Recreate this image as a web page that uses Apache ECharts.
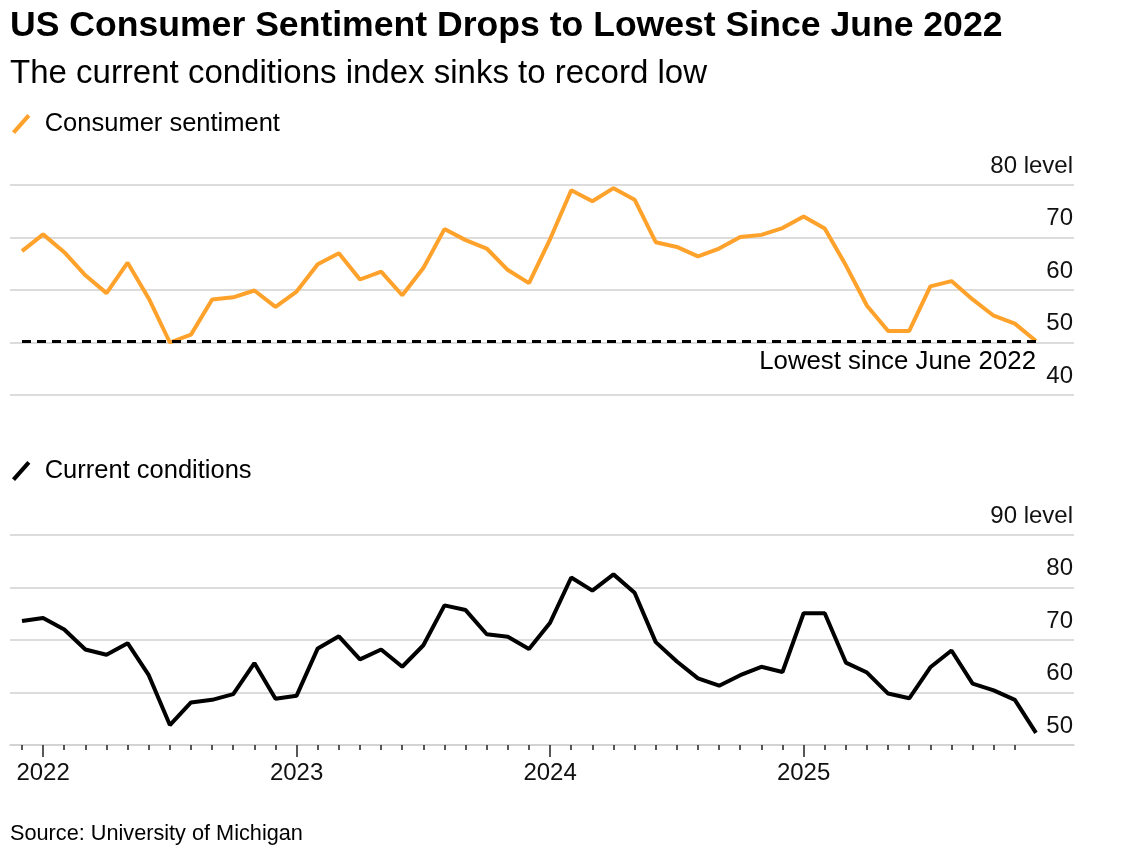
<!DOCTYPE html>
<html>
<head>
<meta charset="utf-8">
<script src="https://cdn.jsdelivr.net/npm/echarts@6/dist/echarts.min.js"></script>
<style>
html,body{margin:0;padding:0;background:#fff;}
#chart{width:1128px;height:859px;}
</style>
</head>
<body>
<div id="chart"></div>
<script>
// Month-end observation dates (Bloomberg plots monthly values at month end)
const months = [
  "2021-11","2021-12",
  "2022-01","2022-02","2022-03","2022-04","2022-05","2022-06","2022-07","2022-08","2022-09","2022-10","2022-11","2022-12",
  "2023-01","2023-02","2023-03","2023-04","2023-05","2023-06","2023-07","2023-08","2023-09","2023-10","2023-11","2023-12",
  "2024-01","2024-02","2024-03","2024-04","2024-05","2024-06","2024-07","2024-08","2024-09","2024-10","2024-11","2024-12",
  "2025-01","2025-02","2025-03","2025-04","2025-05","2025-06","2025-07","2025-08","2025-09","2025-10","2025-11"
];
const consumerSentiment = [
  67.4, 70.6,
  67.2, 62.8, 59.4, 65.2, 58.4, 50.0, 51.5, 58.2, 58.6, 59.9, 56.8, 59.7,
  64.9, 67.0, 62.0, 63.5, 59.0, 64.2, 71.6, 69.5, 67.9, 63.8, 61.3, 69.7,
  79.0, 76.9, 79.4, 77.2, 69.1, 68.2, 66.4, 67.9, 70.1, 70.5, 71.8, 74.0,
  71.7, 64.7, 57.0, 52.2, 52.2, 60.7, 61.7, 58.2, 55.1, 53.6, 50.3
];
const currentConditions = [
  73.6, 74.2,
  72.0, 68.2, 67.2, 69.4, 63.3, 53.8, 58.1, 58.6, 59.7, 65.6, 58.8, 59.4,
  68.4, 70.7, 66.3, 68.2, 64.9, 69.0, 76.6, 75.7, 71.1, 70.6, 68.3, 73.3,
  81.9, 79.4, 82.5, 79.0, 69.6, 65.9, 62.7, 61.3, 63.3, 64.9, 63.9, 75.1,
  75.1, 65.7, 63.8, 59.8, 58.9, 64.8, 68.0, 61.7, 60.4, 58.6, 52.3
];
const sentimentTicks = [40, 50, 60, 70, 80];
const conditionsTicks = [50, 60, 70, 80, 90];
const lowestLevel = 50.3;
const lowestLabel = "Lowest since June 2022";

// month-end of December sits on the new-year boundary
const monthTicks = months.slice(0, -1).map((m, i) => i);
const yearTicks = months.map((m, i) => m.endsWith("-12") ? i : -1).filter(i => i >= 0);
const yearLabel = i => String(+months[i].slice(0, 4) + 1);

const FONT = "'Liberation Sans', Arial, sans-serif";
const ORANGE = "#ffa22c";
const GRID = "#d0d0d0";

const xMin = -0.568, xMax = 49.8;

function yAxisCfg(grid, ticks) {
  const mx = ticks[ticks.length - 1];
  return {
    type: 'value', gridIndex: grid, position: 'right',
    min: ticks[0], max: mx, interval: ticks[1] - ticks[0],
    axisLine: {show: false}, axisTick: {show: false},
    splitLine: {show: true, lineStyle: {color: GRID, width: 1.5}},
    axisLabel: {
      inside: true, margin: 1, fontSize: 24, fontFamily: FONT, color: '#111',
      verticalAlign: 'bottom', lineHeight: 24, padding: [0, 0, 7, 0],
      showMinLabel: true, showMaxLabel: true,
      formatter: v => v === mx ? v + ' level' : String(v)
    }
  };
}

const slashIcon = 'path://M0,17 L15,0 L18,2.6 L3,19.6 Z';

const option = {
  animation: false,
  backgroundColor: '#fff',
  title: [
    {text: 'US Consumer Sentiment Drops to Lowest Since June 2022', left: 10, top: 8, padding: 0,
     textStyle: {fontFamily: FONT, fontSize: 35.6, fontWeight: 'bold', color: '#000'}},
    {text: 'The current conditions index sinks to record low', left: 10, top: 57, padding: 0,
     textStyle: {fontFamily: FONT, fontSize: 33, fontWeight: 'normal', color: '#000'}},
    {text: 'Source: University of Michigan', left: 10, top: 823, padding: 0,
     textStyle: {fontFamily: FONT, fontSize: 21.7, fontWeight: 'normal', color: '#000'}}
  ],
  legend: [
    {data: ['Consumer sentiment'], left: 12, top: 111, padding: 0, selectedMode: false,
     icon: slashIcon, itemWidth: 19, itemHeight: 20,
     textStyle: {fontFamily: FONT, fontSize: 25.5, color: '#000', padding: [0, 0, 0, 9]}},
    {data: ['Current conditions'], left: 12, top: 458, padding: 0, selectedMode: false,
     icon: slashIcon, itemWidth: 19, itemHeight: 20,
     textStyle: {fontFamily: FONT, fontSize: 25.5, color: '#000', padding: [0, 0, 0, 9]}}
  ],
  grid: [
    {left: 10, right: 54, top: 185, height: 210},
    {left: 10, right: 54, top: 535, height: 210}
  ],
  xAxis: [
    {type: 'value', gridIndex: 0, min: xMin, max: xMax, show: false, splitLine: {show: false}},
    {type: 'value', gridIndex: 1, min: xMin, max: xMax, position: 'bottom', offset: 0, splitLine: {show: false},
     axisLine: {show: true, lineStyle: {color: GRID, width: 1.5}},
     axisTick: {show: true, customValues: monthTicks, length: 5, lineStyle: {color: '#222', width: 1.5}},
     axisLabel: {show: true, customValues: yearTicks, formatter: v => yearLabel(v),
                 margin: 16, fontSize: 24, fontFamily: FONT, color: '#111'}},
    {type: 'value', gridIndex: 1, min: xMin, max: xMax, position: 'bottom', offset: 0, splitLine: {show: false},
     axisLine: {show: false},
     axisTick: {show: true, customValues: yearTicks, length: 12, lineStyle: {color: '#222', width: 1.5}},
     axisLabel: {show: false}}
  ],
  yAxis: [yAxisCfg(0, sentimentTicks), yAxisCfg(1, conditionsTicks)],
  series: [
    {name: 'Consumer sentiment', type: 'line', xAxisIndex: 0, yAxisIndex: 0,
     data: consumerSentiment.map((v, i) => [i, v]), showSymbol: false, symbol: 'none',
     color: ORANGE, lineStyle: {color: ORANGE, width: 4}, z: 3,
     markLine: {
       silent: true, symbol: 'none', z: 4,
       lineStyle: {color: '#000', width: 3, type: [9, 6]},
       label: {show: true, position: 'insideEndBottom', formatter: lowestLabel, distance: [0, 8],
               fontFamily: FONT, fontSize: 25.8, color: '#000'},
       data: [[{coord: [0, lowestLevel]}, {coord: [consumerSentiment.length - 1, lowestLevel]}]]
     }},
    {name: 'Current conditions', type: 'line', xAxisIndex: 1, yAxisIndex: 1,
     data: currentConditions.map((v, i) => [i, v]), showSymbol: false, symbol: 'none',
     color: '#000', lineStyle: {color: '#000', width: 4}, z: 3}
  ]
};

const chart = echarts.init(document.getElementById('chart'), null, {renderer: 'canvas'});
chart.setOption(option);
</script>
</body>
</html>
